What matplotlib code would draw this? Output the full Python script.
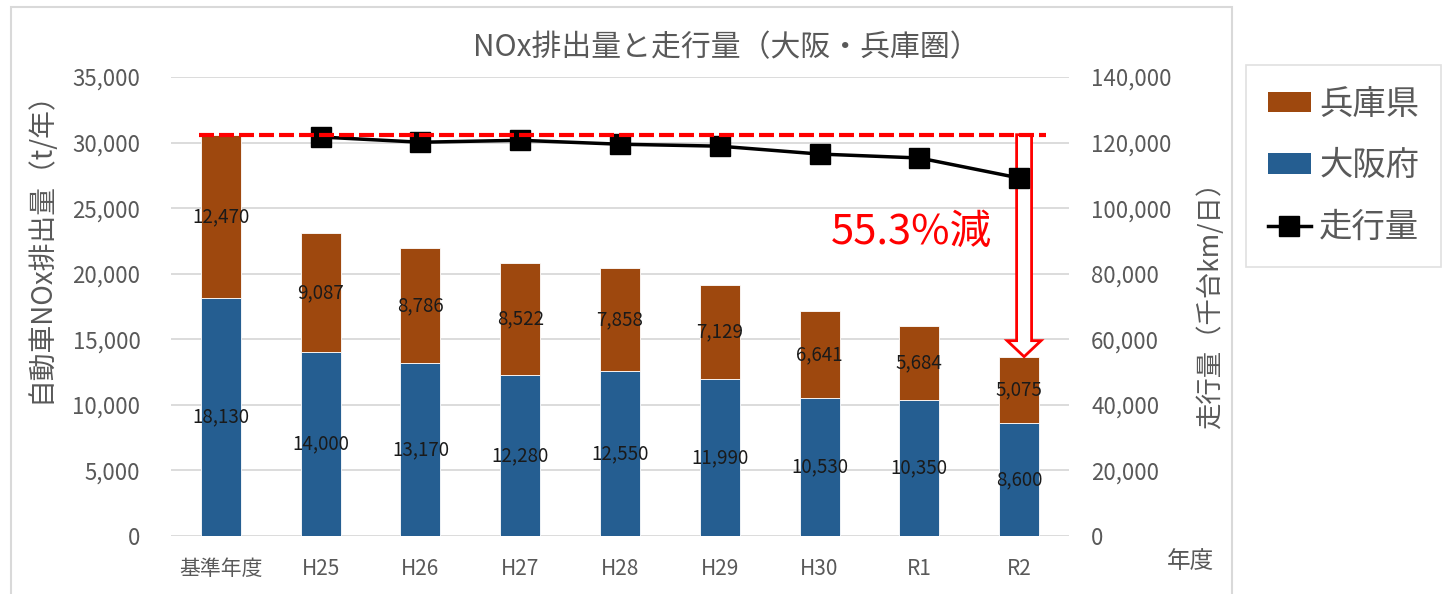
import numpy as np
import matplotlib.pyplot as plt
from matplotlib.patches import FancyArrow, Rectangle, Patch
from matplotlib.lines import Line2D
from matplotlib.ticker import FuncFormatter

plt.rcParams['font.family'] = ['Noto Sans CJK JP', 'DejaVu Sans']

# データ
years = ['基準年度', 'H25', 'H26', 'H27', 'H28', 'H29', 'H30', 'R1', 'R2']
osaka = [18130, 14000, 13170, 12280, 12550, 11990, 10530, 10350, 8600]
hyogo = [12470, 9087, 8786, 8522, 7858, 7129, 6641, 5684, 5075]
traffic = [121700, 120100, 120700, 119500, 118900, 116500, 115300, 109200]  # H25〜R2
reduction_text = '55.3%減'

gray = '#595959'
c_osaka = '#255E91'
c_hyogo = '#9E480E'

x = np.arange(len(years))
totals = [o + h for o, h in zip(osaka, hyogo)]

fig = plt.figure(figsize=(14.45, 5.94), dpi=100)
ax = fig.add_axes([171 / 1445, 58 / 594, 898 / 1445, 459 / 594])

ax.bar(x, osaka, 0.4, color=c_osaka, edgecolor='white', linewidth=0.6, zorder=2)
ax.bar(x, hyogo, 0.4, bottom=osaka, color=c_hyogo, edgecolor='white', linewidth=0.6, zorder=2)

# ラベル
for xi, o, h in zip(x, osaka, hyogo):
    ax.text(xi, o / 2, f'{o:,}', ha='center', va='center', fontsize=13.5, color='#1a1a1a', zorder=4)
    ax.text(xi, o + h / 2, f'{h:,}', ha='center', va='center', fontsize=13.5, color='#1a1a1a', zorder=4)

ax.set_xlim(-0.5, len(years) - 0.5)
ax.set_ylim(0, 35000)
ax.set_yticks(np.arange(0, 35001, 5000))
ax.yaxis.set_major_formatter(FuncFormatter(lambda v, p: f'{int(v):,}'))
ax.set_xticks(x)
ax.set_xticklabels(years)
ax.yaxis.grid(True, color='#D9D9D9', linewidth=1.3)
ax.set_axisbelow(True)
for s in ax.spines.values():
    s.set_visible(False)
ax.tick_params(axis='y', length=0, labelsize=16, labelcolor=gray, pad=22)
ax.tick_params(axis='x', length=0, labelsize=15, labelcolor=gray, pad=16)

# 走行量（右軸）
ax2 = ax.twinx()
ax2.plot(x[1:], traffic, color='black', linewidth=2.5, marker='s', markersize=14, zorder=3)
ax2.set_ylim(0, 140000)
ax2.set_yticks(np.arange(0, 140001, 20000))
ax2.yaxis.set_major_formatter(FuncFormatter(lambda v, p: f'{int(v):,}'))
for s in ax2.spines.values():
    s.set_visible(False)
ax2.tick_params(axis='y', length=0, labelsize=16, labelcolor=gray, pad=16)

# 基準年度の水準（破線）と削減矢印
base = totals[0]
ax2.plot([-0.22, 8.27], [base, base], transform=ax.transData, color='red',
         linestyle=(0, (3.6, 1.2)), linewidth=3, zorder=5)
arrow = FancyArrow(8.05, base, 0, -(base - totals[-1]), width=0.15, head_width=0.34,
                   head_length=1220, length_includes_head=True, facecolor='white',
                   edgecolor='red', linewidth=2, transform=ax.transData, zorder=2.5)
ax2.add_patch(arrow)
ax2.set_xlim(-0.5, len(years) - 0.5)

ax.text(6.92, 23180, reduction_text, ha='center', va='center', fontsize=30, color='red', zorder=6)

# タイトル・軸ラベル
fig.text(726 / 1445, 1 - 48 / 594, 'NOx排出量と走行量（大阪・兵庫圏）', ha='center', va='center',
         fontsize=21.5, color=gray)
fig.text(40 / 1445, 1 - 240 / 594, '自動車NOx排出量（t/年）', rotation=90, ha='center', va='center',
         fontsize=20, color=gray)
fig.text(1210 / 1445, 1 - 299 / 594, '走行量（千台km/日）', rotation=90, ha='center', va='center',
         fontsize=19, color=gray)
fig.text(1190 / 1445, 1 - 562 / 594, '年度', ha='center', va='center', fontsize=17, color=gray)

# 凡例
handles = [Patch(facecolor=c_hyogo), Patch(facecolor=c_osaka),
           Line2D([], [], color='black', linewidth=2.5, marker='s', markersize=14)]
leg = fig.legend(handles, ['兵庫県', '大阪府', '走行量'], loc='upper left',
                 bbox_to_anchor=(1246 / 1445, 1 - 65 / 594), borderaxespad=0,
                 fontsize=24, labelcolor=gray, frameon=True, fancybox=False,
                 edgecolor='#D9D9D9', handlelength=1.3, handleheight=0.55, handletextpad=0.25,
                 labelspacing=0.8, borderpad=0.65)
leg.get_frame().set_linewidth(1.2)

# 外枠
fig.add_artist(Rectangle((11 / 1445, -0.01), (1232 - 11) / 1445, (594 - 7) / 594 + 0.01,
                         transform=fig.transFigure, fill=False, edgecolor='#D9D9D9', linewidth=1.5))

fig.savefig('out.png', dpi=100)
